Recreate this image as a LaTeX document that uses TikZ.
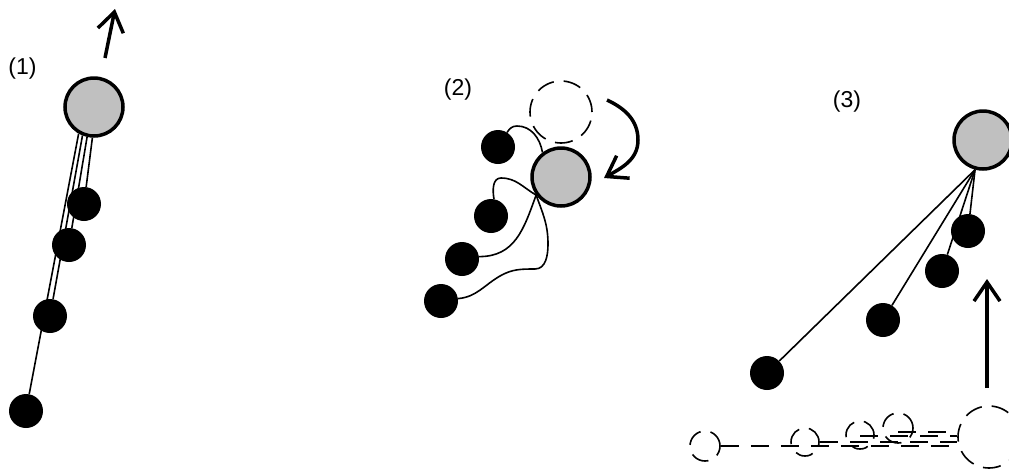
\documentclass[tikz,border=0pt]{standalone}
\usepackage{fontspec}
\setmainfont{Liberation Sans}
\usetikzlibrary{arrows.meta}
\definecolor{corefill}{HTML}{C0C0C0}
\tikzset{
  core/.style={circle, draw=black, line width=3.5pt, fill=corefill, minimum size=58pt, inner sep=0pt},
  bead/.style={circle, fill=black, minimum size=34pt, inner sep=0pt},
  ghost/.style={circle, draw=black, line width=1.6pt, dash pattern=on 18pt off 10pt, inner sep=0pt},
  tether/.style={line width=1.6pt},
  ghostline/.style={line width=1.6pt, dash pattern=on 18pt off 12pt},
  move/.style={line width=3.5pt, -{Straight Barb[length=19pt, width=26pt]}},
  tag/.style={font=\fontsize{23}{27}\selectfont, inner sep=0pt}
}
\begin{document}
\begin{tikzpicture}[x=1pt, y=-1pt]
\useasboundingbox (0,0) rectangle (1009,472);

% ---- (1) chain pulled straight ----
\node[tag] (t1) at (22.5,69) {(1)};
\node[core] (g1) at (94,107) {};
\node[bead] (d11) at (84,204) {};
\node[bead] (d12) at (69,245) {};
\node[bead] (d13) at (50,316) {};
\node[bead] (d14) at (26,411) {};
\draw[tether] (g1.240) -- (d14);
\draw[tether] (g1.248) -- (d13);
\draw[tether] (g1.257) -- (d12);
\draw[tether] (g1.267) -- (d11);
\coordinate (a1s) at (105,58);
\coordinate (a1e) at (115,9);
\draw[move] (a1s) -- (a1e);

% ---- (2) tumbling core with coiled tethers ----
\node[tag] (t2) at (458,89.5) {(2)};
\node[ghost, minimum size=62pt] (h2) at (561,112) {};
\node[core] (g2) at (561,177) {};
\node[bead] (d21) at (498,147) {};
\node[bead] (d22) at (491,216) {};
\node[bead] (d23) at (462,259) {};
\node[bead] (d24) at (441,301) {};
\draw[tether] (d21.58) to[out=60,in=180] (517,126) to[out=0,in=100] (g2.127);
\draw[tether] (d22.80) to[out=100,in=180] (501,178) to[out=0,in=150] (g2.216);
\draw[tether] (d23.8) to[out=0,in=250, looseness=1.1] (g2.216);
\draw[tether] (d24.8) to[out=5,in=210] (500,276) to[out=30,in=180] (535,269)
  to[out=0,in=270] (548,244) to[out=90,in=290] (g2.216);
\coordinate (a2s) at (607,100);
\coordinate (a2m) at (638,140);
\coordinate (a2e) at (604,178);
\draw[move] (a2s) to[out=-25,in=90] (a2m) to[out=-90,in=30] (a2e);

% ---- (3) fan of tethers, earlier position dashed ----
\node[tag] (t3) at (847,101.5) {(3)};
\node[core] (g3) at (983,140) {};
\node[bead] (d31) at (968,231) {};
\node[bead] (d32) at (942,271) {};
\node[bead] (d33) at (883,320) {};
\node[bead] (d34) at (767,373) {};
\foreach \d in {d31,d32,d33,d34} \draw[tether] (g3.255) -- (\d);
\coordinate (a3s) at (987,388);
\coordinate (a3e) at (987,279);
\draw[move] (a3s) -- (a3e);

\node[ghost, minimum size=62pt] (b) at (989,437) {};
\node[ghost, minimum size=30pt] (s1) at (705,446) {};
\node[ghost, minimum size=28pt] (s2) at (805,442) {};
\node[ghost, minimum size=28pt] (s3) at (860,435) {};
\node[ghost, minimum size=30pt] (s4) at (898,428) {};
\draw[ghostline] (s1.east) -- (s1.east -| b.west);
\draw[ghostline] (s2.east) -- (s2.east -| b.west);
\draw[ghostline] ([yshift=-1pt]s3.center) -- ([yshift=-1pt]s3.center -| b.west);
\draw[ghostline] ([yshift=-4pt]s4.center) -- ([yshift=-4pt]s4.center -| b.west);
\end{tikzpicture}
\end{document}
